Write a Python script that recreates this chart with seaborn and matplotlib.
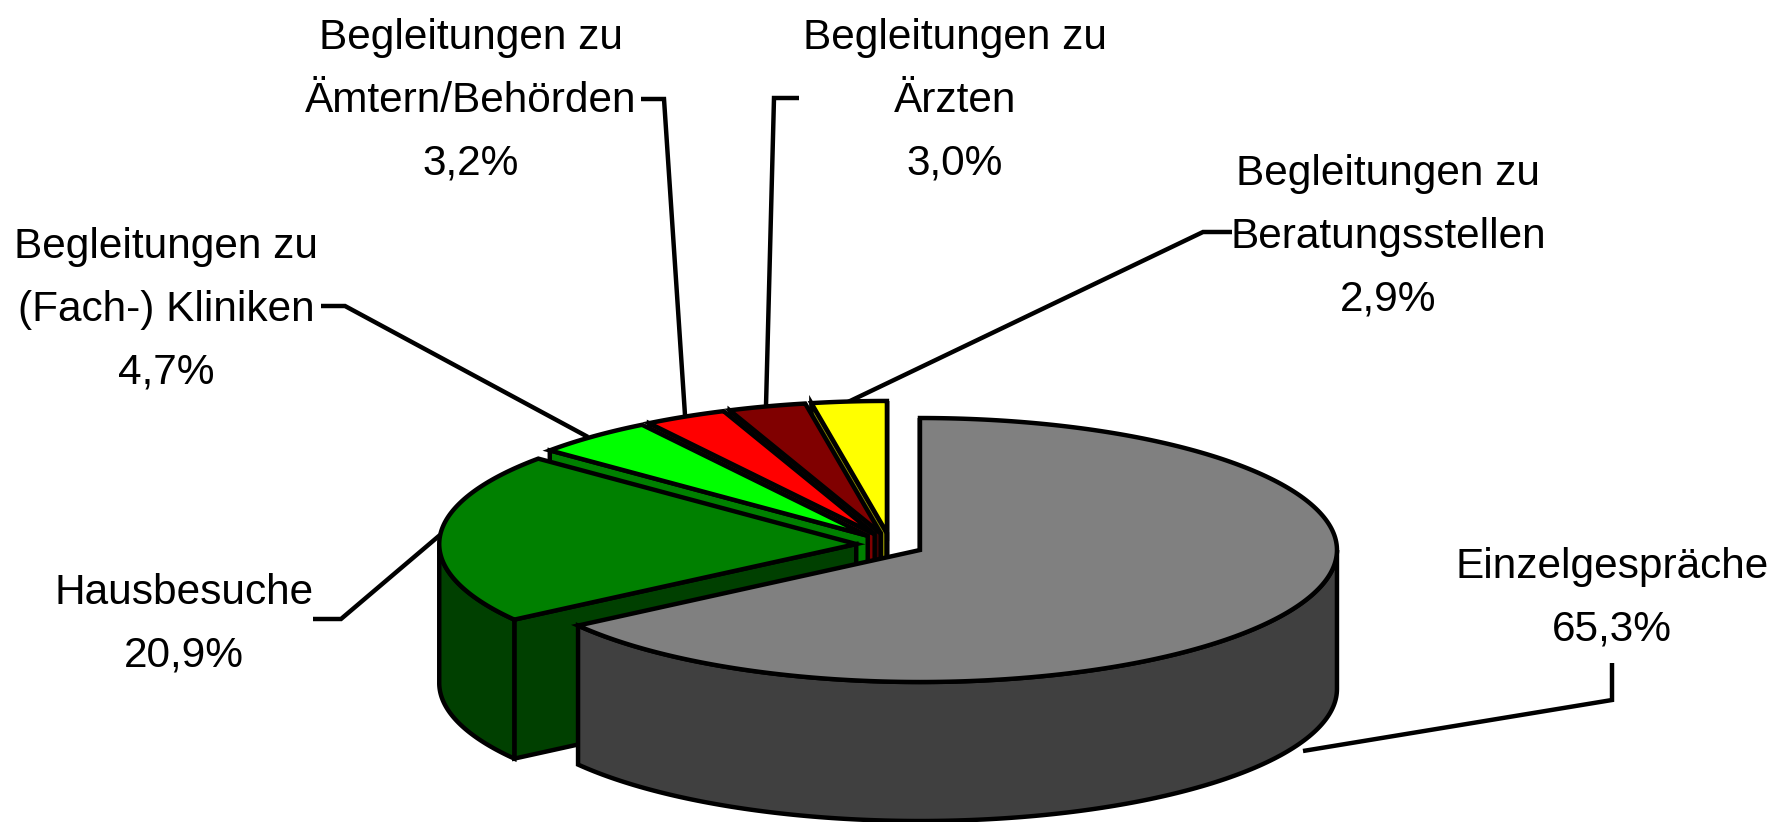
import numpy as np
import matplotlib
matplotlib.use("Agg")
import matplotlib.pyplot as plt
import seaborn as sns

# ---- data ----
categories = ["Einzelgespräche", "Hausbesuche", "Begleitungen zu\n(Fach-) Kliniken",
              "Begleitungen zu\nÄmtern/Behörden", "Begleitungen zu\nÄrzten",
              "Begleitungen zu\nBeratungsstellen"]
shares = [65.3, 20.9, 4.7, 3.2, 3.0, 2.9]
top_colors = ["#808080", "#008000", "#00FF00", "#FF0000", "#800000", "#FFFF00"]

# ---- layout (pixels of the figure) ----
CX, CY = 890, 544.6
RX, RY, DEPTH = 417, 132, 139
EXPL_X, EXPL_Y = 33.8, 11.7
LW = 3.2
label_xy = [(1612, 598), (184, 624), (166, 310), (471, 101), (955, 101), (1388, 237)]
leaders = [
    [(1612, 663), (1612, 700), (1303, 751)],
    [(313, 619), (341, 619), (440, 535)],
    [(321, 306), (345, 306), (588, 437)],
    [(641, 99), (664, 99), (685, 415)],
    [(799, 98), (774, 98), (766, 406)],
    [(1232, 232), (1203, 232), (848, 402)],
]

sns.set_theme(style="white")
plt.rcParams["font.family"] = ["Liberation Sans", "DejaVu Sans"]

fig = plt.figure(figsize=(17.84, 8.22), dpi=100, facecolor="white")
ax = fig.add_axes([0, 0, 1, 1])
ax.set_xlim(0, 1784)
ax.set_ylim(822, 0)
ax.axis("off")
sns.despine(ax=ax, left=True, bottom=True)

vals = np.asarray(shares, float)
edges = np.concatenate([[0], np.cumsum(vals) / vals.sum() * 360])


def shade(c):
    r = np.array(matplotlib.colors.to_rgb(c))
    return tuple(r * 0.5)


def poly(xs, ys, color, z):
    ax.fill(xs, ys, facecolor=color, edgecolor="black", linewidth=LW,
            joinstyle="miter", zorder=z, clip_on=False)


for i in range(len(vals) - 1, -1, -1):
    t0, t1 = edges[i], edges[i + 1]
    tm = np.radians((t0 + t1) / 2)
    ax_, ay_ = CX + EXPL_X * np.sin(tm), CY - EXPL_Y * np.cos(tm)
    rim = lambda t: (ax_ + RX * np.sin(np.radians(t)), ay_ - RY * np.cos(np.radians(t)))
    z = 10 + (len(vals) - i) * 3
    side = shade(top_colors[i])
    # radial walls
    x0, y0 = rim(t0)
    poly([ax_, x0, x0, ax_], [ay_, y0, y0 + DEPTH, ay_ + DEPTH], side, z)
    if np.sin(np.radians(t1)) >= -1e-9:
        x1, y1 = rim(t1)
        poly([ax_, x1, x1, ax_], [ay_, y1, y1 + DEPTH, ay_ + DEPTH], side, z)
    # outer rim, front half only
    lo, hi = max(t0, 90), min(t1, 270)
    if hi > lo:
        ts = np.linspace(lo, hi, 160)
        xs, ys = rim(ts)
        poly(np.r_[xs, xs[::-1]], np.r_[ys, ys[::-1] + DEPTH], side, z + 1)
    # top face
    ts = np.linspace(t0, t1, 240)
    xs, ys = rim(ts)
    poly(np.r_[ax_, xs], np.r_[ay_, ys], top_colors[i], z + 2)

for pts in leaders:
    p = np.array(pts)
    ax.plot(p[:, 0], p[:, 1], color="black", lw=LW, solid_joinstyle="miter",
            solid_capstyle="butt", zorder=5)

for name, v, (x, y) in zip(categories, shares, label_xy):
    label = f"{name}\n{v:.1f}".replace(".", ",") + "%"
    ax.text(x, y, label, ha="center", va="center", fontsize=30.5, color="black",
            linespacing=1.74, zorder=40)

fig.savefig("out.png", dpi=100, facecolor="white")
